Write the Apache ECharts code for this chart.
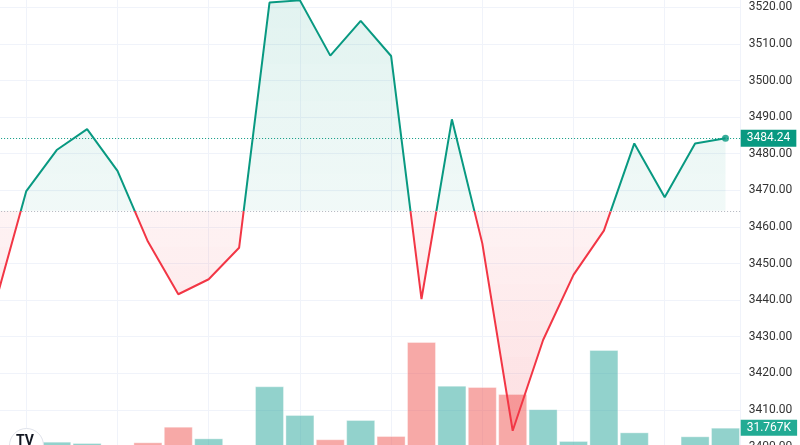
<!DOCTYPE html>
<html>
<head>
<meta charset="utf-8">
<script src="https://cdn.jsdelivr.net/npm/echarts@6/dist/echarts.min.js"></script>
<style>
  html, body { margin: 0; padding: 0; background: #fff; }
  #chart { width: 800px; height: 445px; }
</style>
</head>
<body>
<div id="chart"></div>
<script>
// ---- data ----
// bar index (x position) of each price point; index -1 is partly off the left edge
var indices = [-1, 0, 1, 2, 3, 4, 5, 6, 7, 8, 9, 10, 11, 12, 13, 14, 15, 16, 17, 18, 19, 20, 21, 22, 23];
var prices = [3439.8, 3469.8, 3481.0, 3486.7, 3475.3, 3456.0, 3441.6, 3445.7, 3454.3, 3521.3, 3521.9, 3506.8,
              3516.3, 3506.7, 3440.3, 3489.4, 3455.5, 3404.3, 3429.1, 3446.9, 3459.0, 3482.8, 3468.1, 3482.8, 3484.24];
// volume in thousands
var volumes = [8, 14, 18.0, 16.7, 10, 17.4, 32.8, 21.3, 9, 72.5, 44.3, 20.4, 39.3, 23.6, 116.1, 73.1, 71.8,
               64.9, 49.9, 18.7, 108.2, 27.2, 11, 23.3, 31.767];
// 1 = up (green), 0 = down (red)
var volumeUp = [0, 1, 1, 1, 1, 0, 0, 1, 1, 1, 1, 0, 1, 0, 0, 1, 0, 0, 1, 1, 1, 1, 1, 1, 1];
var baseline = 3464.4;
var lastPrice = 3484.24;
var lastVolumeLabel = '31.767K';
var priceTicks = { min: 3400, max: 3530, interval: 10 };

// ---- styling ----
var UP = '#089981', DOWN = '#f23645';
var UP_VOL = 'rgba(38,166,154,0.5)', DOWN_VOL = 'rgba(239,83,80,0.5)';

var priceData = indices.map(function (x, k) { return [x, prices[k]]; });
var volData = indices.map(function (x, k) {
  return { value: [x, volumes[k]], itemStyle: { color: volumeUp[k] ? UP_VOL : DOWN_VOL } };
});

// stepped pieces for area fill (stronger further from baseline)
var areaPieces = [];
for (var s = 0; s < 30; s++) {
  var lo = baseline + s * 5, hi = lo + 5;
  var a = Math.min(0.06 + s * 0.0055, 0.14);
  areaPieces.push({ gte: lo, lt: hi, color: 'rgba(8,153,129,' + a.toFixed(3) + ')' });
  var lo2 = baseline - (s + 1) * 5, hi2 = baseline - s * 5;
  var b = Math.min(0.06 + s * 0.009, 0.18);
  areaPieces.push({ gte: lo2, lt: hi2, color: 'rgba(242,54,69,' + b.toFixed(3) + ')' });
}

var xMin = -3, xMax = 23.5;
var chart = echarts.init(document.getElementById('chart'), null, { renderer: 'canvas' });
chart.setOption({
  animation: false,
  backgroundColor: '#ffffff',
  grid: [
    { left: -64.9, right: 59.3, top: -29.3, bottom: -1.5, containLabel: false, outerBoundsMode: 'none' },
    { left: -64.9, right: 59.3, top: 0, bottom: -15, containLabel: false, outerBoundsMode: 'none' }
  ],
  xAxis: [
    { type: 'value', gridIndex: 0, min: xMin, max: xMax, interval: 3,
      axisLine: { show: false }, axisTick: { show: false }, axisLabel: { show: false },
      splitLine: { show: true, lineStyle: { color: '#f0f3fa', width: 1 } } },
    { type: 'value', gridIndex: 1, min: xMin, max: xMax, interval: 3,
      axisLine: { show: false }, axisTick: { show: false }, axisLabel: { show: false },
      splitLine: { show: false } }
  ],
  yAxis: [
    { type: 'value', gridIndex: 0, position: 'right', min: priceTicks.min, max: priceTicks.max,
      interval: priceTicks.interval,
      axisLine: { show: false }, axisTick: { show: false },
      axisLabel: { show: true, margin: 8, color: '#333', fontSize: 12, fontFamily: 'Roboto',
        formatter: function (v) { return v.toFixed(2); } },
      splitLine: { show: true, lineStyle: { color: '#f0f3fa', width: 1 } } },
    { type: 'value', gridIndex: 1, min: 0, max: 452.4,
      axisLine: { show: false }, axisTick: { show: false }, axisLabel: { show: false },
      splitLine: { show: false } }
  ],
  visualMap: [
    { type: 'piecewise', show: false, seriesIndex: 2, dimension: 1,
      pieces: [{ gte: 3000, lt: baseline, color: DOWN }, { gte: baseline, lt: 4000, color: UP }] },
    { type: 'piecewise', show: false, seriesIndex: 1, dimension: 1, pieces: areaPieces }
  ],
  series: [
    { type: 'bar', xAxisIndex: 1, yAxisIndex: 1, data: volData, barWidth: 29,
      itemStyle: { borderColor: 'rgba(255,255,255,0.35)', borderWidth: 1 },
      markLine: {
        silent: true, symbol: ['none', 'none'],
        data: [{ yAxis: volumes[volumes.length - 1],
          lineStyle: { color: 'rgba(0,0,0,0)', width: 1, type: 'solid' },
          label: { show: true, position: 'end', distance: 0, formatter: lastVolumeLabel,
            backgroundColor: '#22ab94', color: '#fff', fontSize: 12, fontFamily: 'Roboto',
            padding: [2, 6, 2, 6] } }]
      } },
    { type: 'line', xAxisIndex: 0, yAxisIndex: 0, data: priceData, symbol: 'none',
      lineStyle: { width: 0 }, areaStyle: { origin: baseline, opacity: 1 } },
    { type: 'line', xAxisIndex: 0, yAxisIndex: 0, data: priceData, symbol: 'none',
      lineStyle: { width: 2 } },
    { type: 'scatter', xAxisIndex: 0, yAxisIndex: 0,
      data: [[indices[indices.length - 1], lastPrice]], symbolSize: 7,
      itemStyle: { color: UP },
      markLine: {
        silent: true, symbol: ['none', 'none'],
        data: [
          { yAxis: lastPrice, lineStyle: { type: [1, 2], color: UP, width: 1 },
            label: { show: true, position: 'end', distance: 0,
              formatter: lastPrice.toFixed(2), backgroundColor: UP, color: '#fff', fontSize: 12,
              fontFamily: 'Roboto', padding: [3, 6, 2, 6] } },
          { yAxis: baseline, lineStyle: { type: [1, 2], color: '#b2b5be', width: 1 },
            label: { show: false } }
        ]
      } }
  ],
  graphic: [
    { type: 'circle', left: 9, top: 428, shape: { r: 17 },
      style: { fill: '#fff', stroke: '#e0e3eb', lineWidth: 1 }, z: 100 },
    { type: 'text', left: 16, top: 434, style: { text: 'TV', fill: '#131722',
      font: 'bold 14px Roboto' }, z: 101 }
  ]
});
</script>
</body>
</html>
